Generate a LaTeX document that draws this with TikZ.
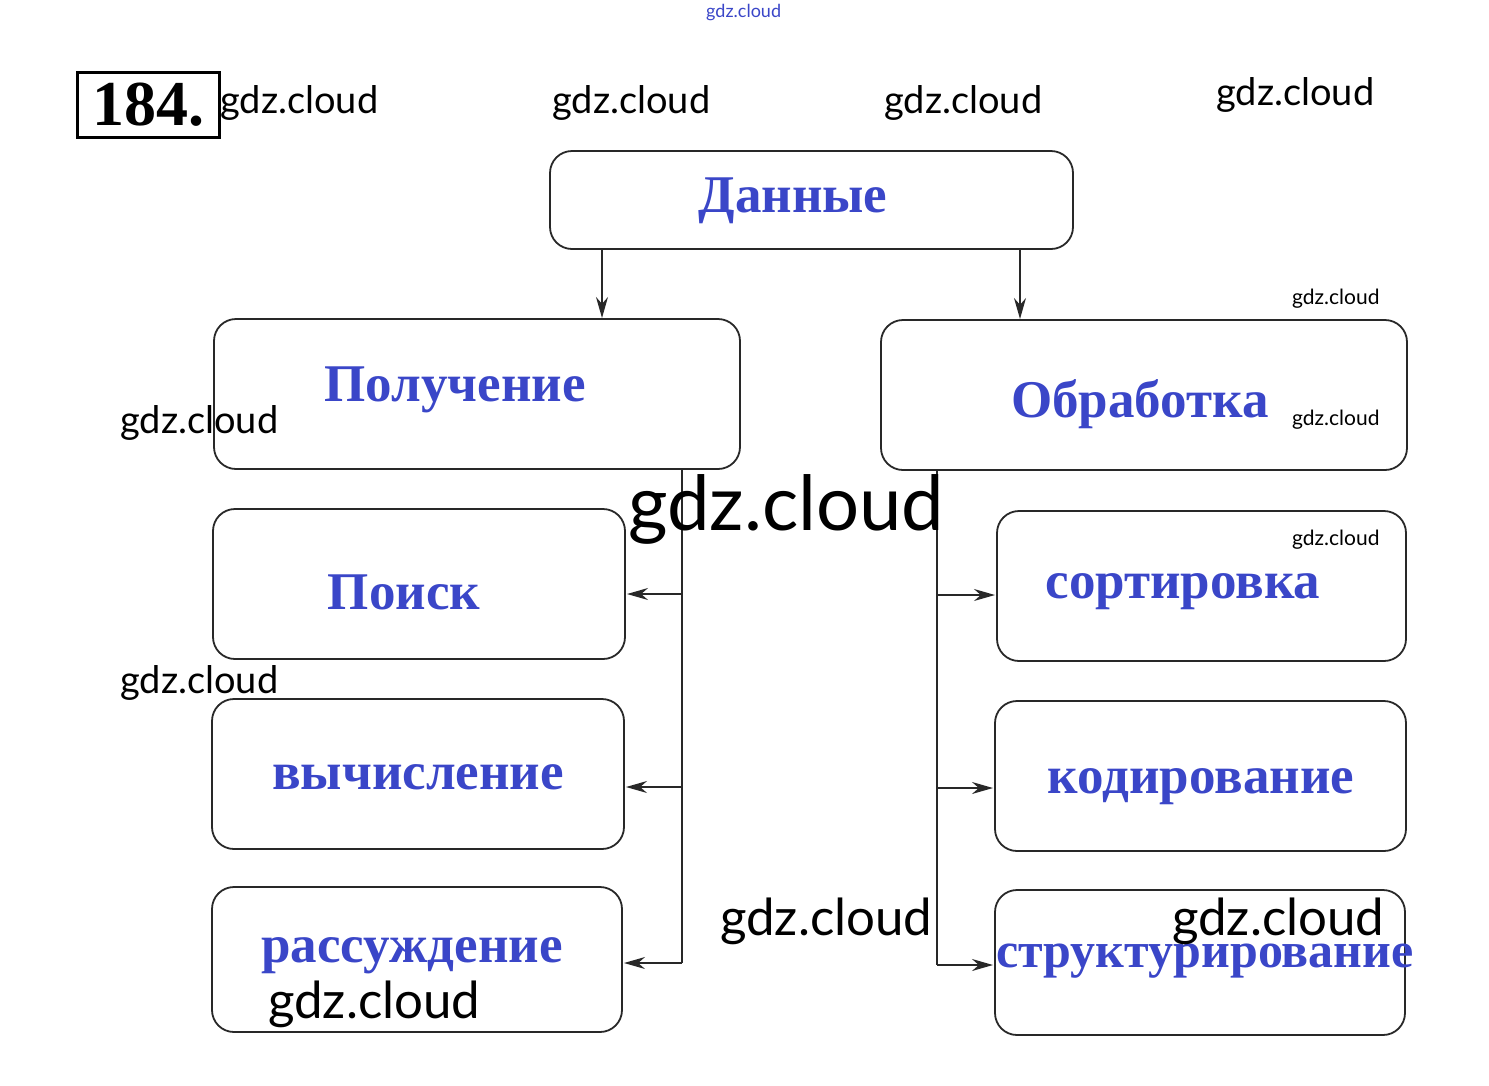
\documentclass[tikz,border=0pt]{standalone}
\usepackage{fontspec}
\setmainfont{Liberation Serif}
\newfontfamily\wmfont{Lato}
\usetikzlibrary{arrows.meta}
\definecolor{lblue}{RGB}{58,70,200}
\definecolor{lline}{RGB}{40,40,40}
\tikzset{
  x=1pt, y=-1pt,
  box/.style={draw=lline, line width=1.8pt, rounded corners=22pt},
  lbl/.style={text=lblue, font=\fontsize{53}{53}\selectfont\bfseries, anchor=center, inner sep=0pt},
  wm/.style={font=\wmfont, anchor=west, inner sep=0pt, text=black},
  arr/.style={draw=lline, line width=1.5pt, -{Stealth[length=21pt,width=12pt]}},
  bus/.style={draw=lline, line width=1.5pt}
}
\begin{document}
\begin{tikzpicture}
\useasboundingbox (0,0) rectangle (1489,1085);
% number
\node[draw=black, line width=3pt, minimum width=142pt, minimum height=65pt, inner sep=0pt, font=\fontsize{64}{64}\selectfont\rmfamily\bfseries, anchor=north west] (num) at (76,71) {184.};
% boxes
\draw[box] (550,151) rectangle (1073,249);
\node[lbl] (d) at (793,201) {Данные};
\draw[box] (214,319) rectangle (740,469);
\node[lbl] (pol) at (455,390) {Получение};
\draw[box] (881,320) rectangle (1407,470);
\node[lbl] (obr) at (1140,404) {Обработка};
\draw[box] (213,509) rectangle (625,659);
\node[lbl] (poi) at (404,592) {Поиск};
\draw[box] (212,699) rectangle (624,849);
\node[lbl] (vyc) at (418,777) {вычисление};
\draw[box] (212,887) rectangle (622,1032);
\node[lbl] (ras) at (412,956) {рассуждение};
\draw[box] (997,511) rectangle (1406,661);
\node[lbl] (sor) at (1183,592) {сортировка};
\draw[box] (995,701) rectangle (1406,851);
\node[lbl] (kod) at (1201,787) {кодирование};
\draw[box] (995,890) rectangle (1405,1035);
\node[lbl, font=\fontsize{50}{50}\selectfont\bfseries] (str) at (1205,961) {структурирование};
% connectors
\coordinate (a1) at (602,250);
\coordinate (a2) at (602,318);
\coordinate (b1) at (1020,250);
\coordinate (b2) at (1020,319);
\draw[arr] (a1) -- (a2);
\draw[arr] (b1) -- (b2);
\coordinate (lt) at (682,470);
\coordinate (l1) at (682,594);
\coordinate (l2) at (682,787);
\coordinate (l3) at (682,963);
\draw[bus] (lt) -- (l3);
\draw[arr] (l1) -- (627,594);
\draw[arr] (l2) -- (626,787);
\draw[arr] (l3) -- (624,963);
\coordinate (rt) at (937,471);
\coordinate (r1) at (937,595);
\coordinate (r2) at (937,788);
\coordinate (r3) at (937,965);
\draw[bus] (rt) -- (r3);
\draw[arr] (r1) -- (995,595);
\draw[arr] (r2) -- (993,788);
\draw[arr] (r3) -- (993,965);
% watermarks
\node[wm, font=\wmfont\fontsize{18}{18}\selectfont, text=lblue] (w0) at (706,13) {gdz.cloud};
\node[wm, font=\wmfont\fontsize{38}{38}\selectfont] (w1) at (220,103) {gdz.cloud};
\node[wm, font=\wmfont\fontsize{38}{38}\selectfont] (w2) at (552,103) {gdz.cloud};
\node[wm, font=\wmfont\fontsize{38}{38}\selectfont] (w3) at (884,103) {gdz.cloud};
\node[wm, font=\wmfont\fontsize{38}{38}\selectfont] (w4) at (1216,95) {gdz.cloud};
\node[wm, font=\wmfont\fontsize{21}{21}\selectfont] (w5) at (1292,299) {gdz.cloud};
\node[wm, font=\wmfont\fontsize{21}{21}\selectfont] (w6) at (1292,420) {gdz.cloud};
\node[wm, font=\wmfont\fontsize{21}{21}\selectfont] (w7) at (1292,540) {gdz.cloud};
\node[wm, font=\wmfont\fontsize{38}{38}\selectfont] (w8) at (120,423) {gdz.cloud};
\node[wm, font=\wmfont\fontsize{38}{38}\selectfont] (w9) at (120,683) {gdz.cloud};
\node[wm, font=\wmfont\fontsize{76}{76}\selectfont] (w10) at (628,509) {gdz.cloud};
\node[wm, font=\wmfont\fontsize{51}{51}\selectfont] (w11) at (720,921) {gdz.cloud};
\node[wm, font=\wmfont\fontsize{51}{51}\selectfont] (w12) at (1172,921) {gdz.cloud};
\node[wm, font=\wmfont\fontsize{51}{51}\selectfont] (w13) at (268,1004) {gdz.cloud};
\end{tikzpicture}
\end{document}
